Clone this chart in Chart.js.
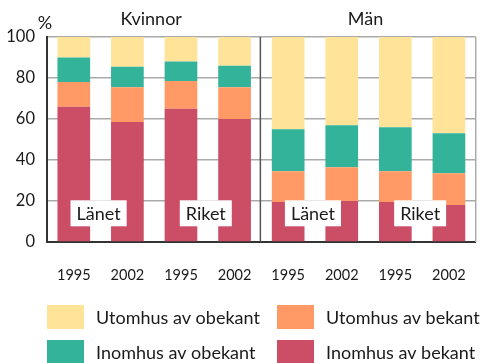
<!DOCTYPE html>
<html>
<head>
<meta charset="utf-8">
<script src="https://cdn.jsdelivr.net/npm/chart.js@4"></script>
<style>
  html, body { margin: 0; padding: 0; background: #fff; }
  #wrap { width: 483px; height: 363px; }
</style>
</head>
<body>
<div id="wrap"><canvas id="c" width="483" height="363"></canvas></div>
<script>
// Categories: survey years, grouped by sex and by area
const years = ['1995', '2002', '1995', '2002', '1995', '2002', '1995', '2002'];
const groups = ['Kvinnor', 'Män'];
const areas = ['Länet', 'Riket'];

// Share of violence (%) by place and relation to perpetrator
const inomhusBekant  = [66, 58.5, 65, 60, 19.5, 20, 19.5, 18];
const utomhusBekant  = [12, 17, 13.5, 15.5, 15, 16.5, 15, 15.5];
const inomhusObekant = [12, 10, 9.5, 10.5, 20.5, 20.5, 21.5, 19.5];
const utomhusObekant = [10, 14.5, 12, 14, 45, 43, 44, 47];

const yTicks = [0, 20, 40, 60, 80, 100];

const FONT = 'Lato, "Open Sans", sans-serif';
const TEXT = '#1a1a1a';

const datasets = [
  { label: 'Inomhus av bekant',  data: inomhusBekant,  backgroundColor: '#cc4d66' },
  { label: 'Utomhus av bekant',  data: utomhusBekant,  backgroundColor: '#ff9966' },
  { label: 'Inomhus av obekant', data: inomhusObekant, backgroundColor: '#33b39a' },
  { label: 'Utomhus av obekant', data: utomhusObekant, backgroundColor: '#ffe399' }
];
// legend reading order: row by row, two columns
const legendOrder = [3, 1, 2, 0];

const decorations = {
  id: 'decorations',
  afterDatasetsDraw(chart) {
    const { ctx, chartArea: a, scales: { x, y } } = chart;
    ctx.save();
    // right frame
    ctx.strokeStyle = '#aaaaaa';
    ctx.lineWidth = 1.5;
    ctx.beginPath();
    ctx.moveTo(a.right, a.top);
    ctx.lineTo(a.right, a.bottom);
    ctx.stroke();
    // divider between the two groups
    const half = years.length / 2;
    const dx = (x.getPixelForValue(half - 1) + x.getPixelForValue(half)) / 2 - 1;
    ctx.strokeStyle = '#555555';
    ctx.lineWidth = 1.5;
    ctx.beginPath();
    ctx.moveTo(dx, a.top);
    ctx.lineTo(dx, a.bottom);
    ctx.stroke();

    // area labels in white boxes
    ctx.font = '18px ' + FONT;
    ctx.textAlign = 'center';
    ctx.textBaseline = 'middle';
    const ly = y.getPixelForValue(14);
    for (let i = 0; i < years.length / 2; i++) {
      const cx = (x.getPixelForValue(2 * i) + x.getPixelForValue(2 * i + 1)) / 2 - 2;
      const txt = areas[i % 2];
      const w = ctx.measureText(txt).width + 12;
      ctx.fillStyle = '#ffffff';
      ctx.fillRect(cx - w / 2, ly - 13, w, 26);
      ctx.fillStyle = TEXT;
      ctx.fillText(txt, cx, ly + 1);
    }

    // group titles
    ctx.font = '18px ' + FONT;
    for (let g = 0; g < groups.length; g++) {
      const c = (x.getPixelForValue(4 * g + 1) + x.getPixelForValue(4 * g + 2)) / 2 - 3;
      ctx.fillText(groups[g], c, 19);
    }
    // unit
    ctx.fillText('%', a.left - 2, 23);

    // legend
    const cols = [47, 277];
    const rows = [305, 340];
    ctx.textAlign = 'left';
    ctx.font = '18px ' + FONT;
    legendOrder.forEach((di, k) => {
      const lx = cols[k % 2];
      const ty = rows[Math.floor(k / 2)];
      ctx.fillStyle = chart.data.datasets[di].backgroundColor;
      ctx.fillRect(lx, ty, 37, 24);
      ctx.fillStyle = TEXT;
      ctx.fillText(chart.data.datasets[di].label, lx + 49, ty + 13);
    });
    ctx.restore();
  }
};

new Chart(document.getElementById('c'), {
  type: 'bar',
  data: { labels: years, datasets },
  options: {
    responsive: false,
    animation: false,
    layout: { padding: { top: 37, right: 4, bottom: 81, left: 0 } },
    datasets: { bar: { categoryPercentage: 1, barPercentage: 0.61, borderWidth: 0 } },
    plugins: { legend: { display: false }, tooltip: { enabled: false } },
    scales: {
      x: {
        stacked: true,
        grid: { display: false },
        border: { color: '#333333', width: 2 },
        ticks: { font: { family: FONT, size: 14.5 }, color: TEXT, padding: 17, maxRotation: 0 },
        afterFit(s) { s.height = 40; }
      },
      y: {
        stacked: true,
        min: 0,
        max: 100,
        afterBuildTicks(s) { s.ticks = yTicks.map(v => ({ value: v })); },
        ticks: { font: { family: FONT, size: 16.5 }, color: TEXT, padding: 12 },
        grid: { color: '#aaaaaa', lineWidth: 1.5, drawTicks: false },
        border: { color: '#333333', width: 2 },
        afterFit(s) { s.width = 47; }
      }
    }
  },
  plugins: [decorations]
});
</script>
</body>
</html>
